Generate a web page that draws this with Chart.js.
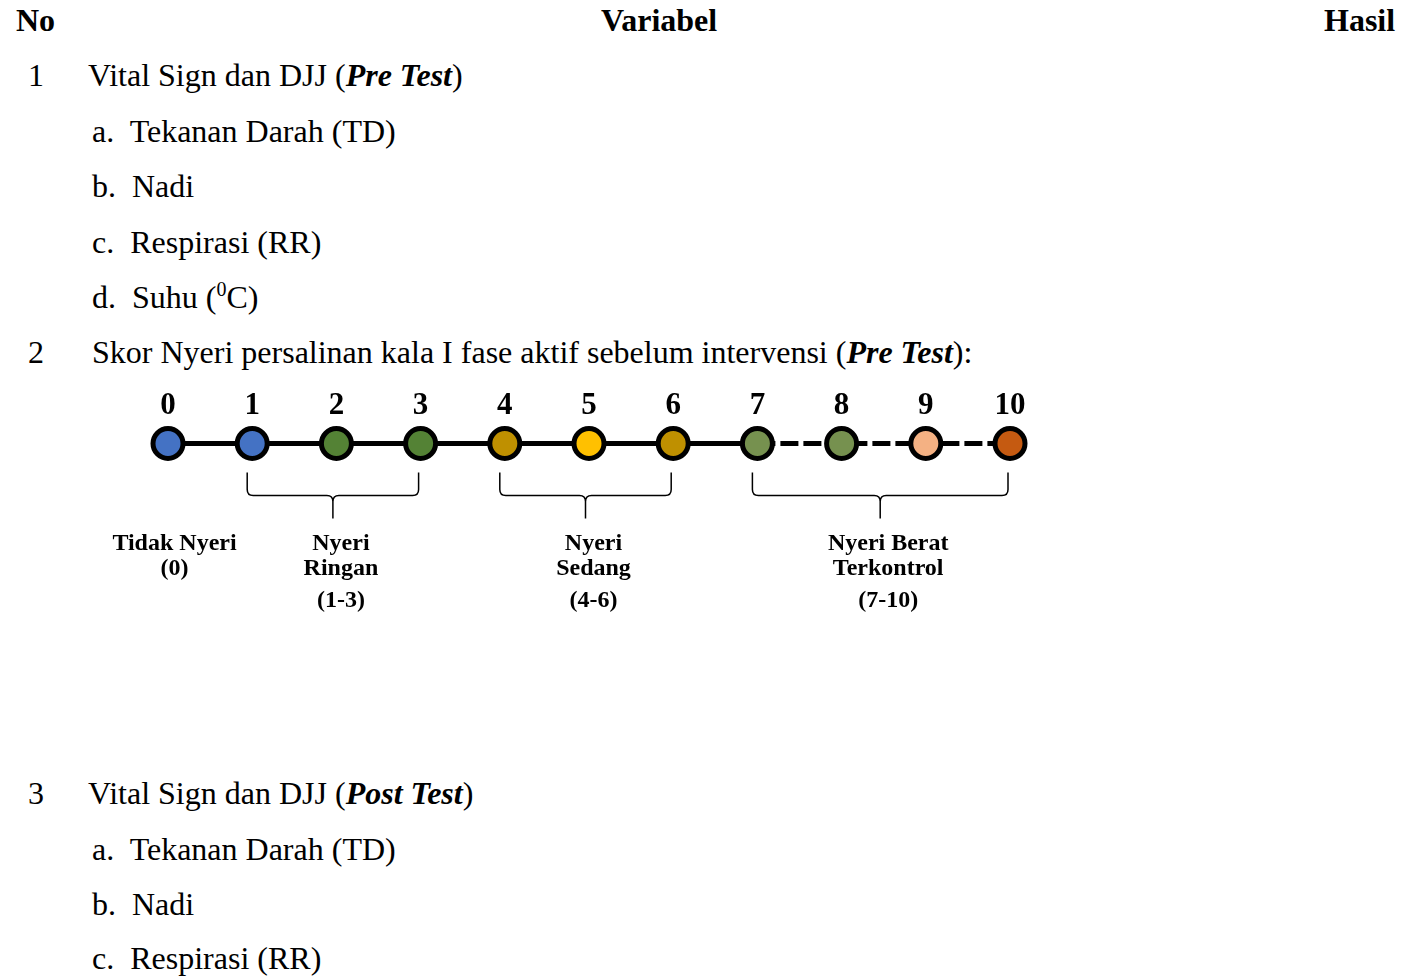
<!DOCTYPE html>
<html>
<head>
<meta charset="utf-8">
<script src="https://cdn.jsdelivr.net/npm/chart.js@4.4.1/dist/chart.umd.min.js"></script>
<style>
  html, body { margin: 0; padding: 0; background: #fff; }
  body { width: 1401px; height: 976px; position: relative; overflow: hidden;
         font-family: "Liberation Serif", "Times New Roman", serif; font-size: 32px; color: #000; }
  .t { position: absolute; line-height: 40px; white-space: nowrap; }
  .b { font-weight: bold; }
  sup { font-size: 20px; vertical-align: 12px; line-height: 0; }
  #wrap { position: absolute; left: 100px; top: 371px; width: 960px; height: 250px; }
</style>
</head>
<body>
<div class="t b" style="left:16px; top:0px;">No</div>
<div class="t b" style="left:601px; top:0px;">Variabel</div>
<div class="t b" style="left:1324px; top:0px;">Hasil</div>

<div class="t" style="left:28px; top:55px;">1</div>
<div class="t" style="left:88px; top:55px;">Vital Sign dan DJJ (<b><i>Pre Test</i></b>)</div>
<div class="t" style="left:92px; top:111px;">a.&nbsp; Tekanan Darah (TD)</div>
<div class="t" style="left:92px; top:166px;">b.&nbsp; Nadi</div>
<div class="t" style="left:92px; top:222px;">c.&nbsp; Respirasi (RR)</div>
<div class="t" style="left:92px; top:277px;">d.&nbsp; Suhu (<sup>0</sup>C)</div>
<div class="t" style="left:28px; top:332px;">2</div>
<div class="t" style="left:92px; top:332px;">Skor Nyeri persalinan kala I fase aktif sebelum intervensi (<b><i>Pre Test</i></b>):</div>

<div id="wrap"><canvas id="scale" width="960" height="250"></canvas></div>

<div class="t" style="left:28px; top:773px;">3</div>
<div class="t" style="left:88px; top:773px;">Vital Sign dan DJJ (<b><i>Post Test</i></b>)</div>
<div class="t" style="left:92px; top:829px;">a.&nbsp; Tekanan Darah (TD)</div>
<div class="t" style="left:92px; top:884px;">b.&nbsp; Nadi</div>
<div class="t" style="left:92px; top:938px;">c.&nbsp; Respirasi (RR)</div>

<script>
// skor nyeri 0-10 dan warna tiap titik
const scores = [0, 1, 2, 3, 4, 5, 6, 7, 8, 9, 10];
const scoreColors = ['#4472c4', '#4472c4', '#548235', '#548235', '#bf9000', '#ffc000',
                     '#bf9000', '#76914f', '#76914f', '#f4b183', '#c55a11'];

// kelompok kategori nyeri
const groupStart = [0, 1, 4, 7];
const groupEnd = [0, 3, 6, 10];
const groupLabels = [
    ['Tidak Nyeri', '(0)'],
    ['Nyeri', 'Ringan', '(1-3)'],
    ['Nyeri', 'Sedang', '(4-6)'],
    ['Nyeri Berat', 'Terkontrol', '(7-10)'],
];

const scaleDecor = {
    id: 'scaleDecor',
    afterDraw(chart) {
        const { ctx } = chart;
        const x = chart.scales.x;
        const y0 = chart.scales.y.getPixelForValue(0);
        ctx.save();
        ctx.fillStyle = '#000';
        ctx.textAlign = 'center';
        ctx.textBaseline = 'middle';

        // angka di atas titik
        ctx.font = 'bold 31px "Liberation Serif"';
        scores.forEach((s) => {
            ctx.fillText(String(s), x.getPixelForValue(s), y0 - 38);
        });

        // kurung kurawal dan label kelompok
        ctx.strokeStyle = '#000';
        ctx.lineWidth = 1.5;
        groupStart.forEach((gs, i) => {
            const ge = groupEnd[i];
            const x1 = x.getPixelForValue(gs) - 5;
            const x2 = x.getPixelForValue(ge) - 2;
            const mid = (x1 + x2) / 2;
            if (ge !== gs) {
                const top = y0 + 29, bar = y0 + 52, tip = y0 + 75, r = 6;
                ctx.beginPath();
                ctx.moveTo(x1, top);
                ctx.lineTo(x1, bar - r);
                ctx.quadraticCurveTo(x1, bar, x1 + r, bar);
                ctx.lineTo(mid - r, bar);
                ctx.quadraticCurveTo(mid, bar, mid, bar + r);
                ctx.lineTo(mid, tip);
                ctx.moveTo(mid, bar + r);
                ctx.quadraticCurveTo(mid, bar, mid + r, bar);
                ctx.lineTo(x2 - r, bar);
                ctx.quadraticCurveTo(x2, bar, x2, bar - r);
                ctx.lineTo(x2, top);
                ctx.stroke();
            }
            ctx.font = 'bold 24px "Liberation Serif"';
            const cx = ge !== gs ? mid + 8 : mid + 10;
            const offs = [100, 125, 157];
            groupLabels[i].forEach((line, j) => {
                ctx.fillText(line, cx, y0 + offs[j]);
            });
        });
        ctx.restore();
    },
};

new Chart(document.getElementById('scale'), {
    type: 'line',
    data: {
        labels: scores,
        datasets: [{
            data: scores.map((s) => ({ x: s, y: 0 })),
            clip: false,
            borderColor: '#000',
            borderWidth: 5,
            pointRadius: 15,
            pointHoverRadius: 15,
            pointBorderWidth: 5,
            pointBorderColor: '#000',
            pointBackgroundColor: scoreColors,
            segment: {
                borderDash: (c) => (c.p0DataIndex >= 7 ? [18, 5] : undefined),
            },
        }],
    },
    options: {
        responsive: false,
        maintainAspectRatio: false,
        animation: false,
        events: [],
        layout: { padding: { left: 68, right: 50, top: 0, bottom: 0 } },
        plugins: { legend: { display: false }, tooltip: { enabled: false } },
        scales: {
            x: { type: 'linear', min: 0, max: 10, display: false },
            y: { min: -3, max: 1, display: false },
        },
    },
    plugins: [scaleDecor],
});
</script>
</body>
</html>
